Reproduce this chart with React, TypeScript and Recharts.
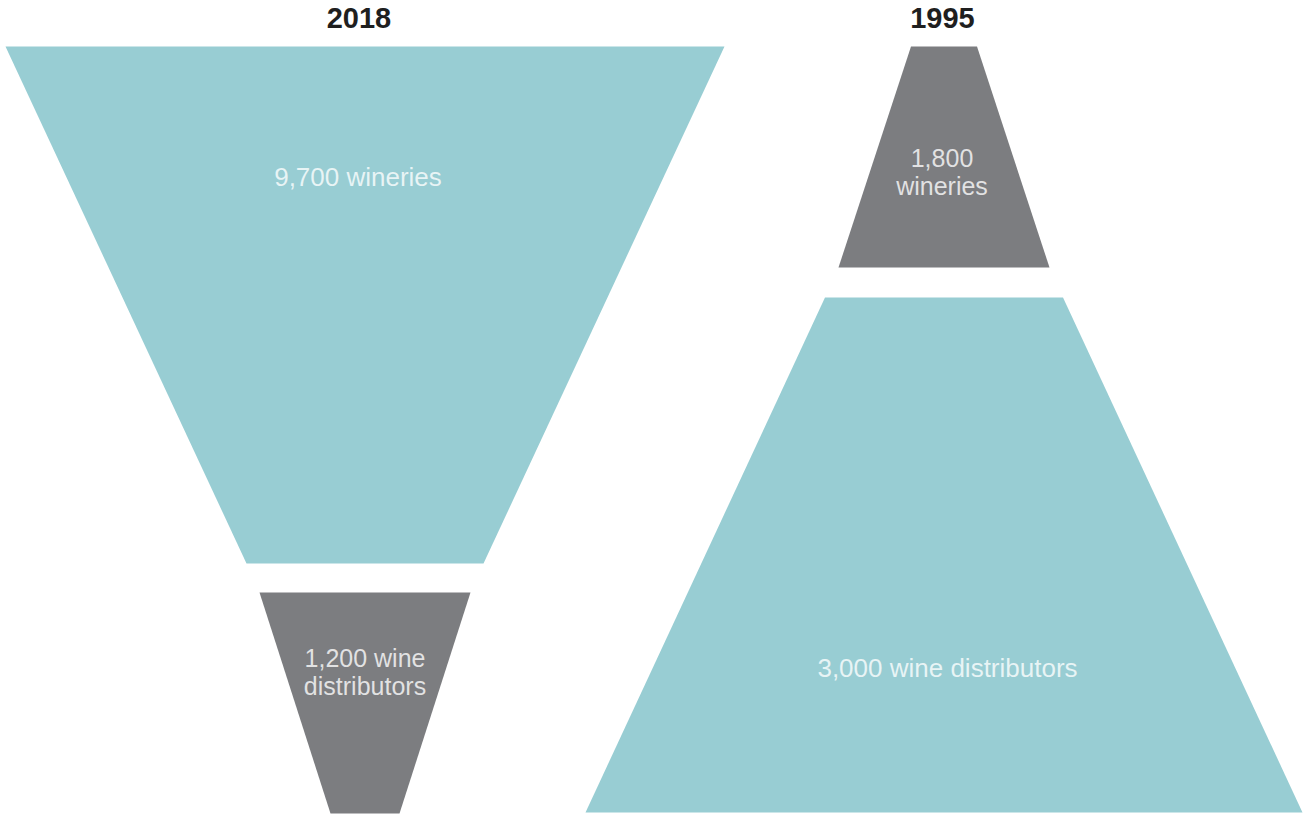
import { Area, ComposedChart, ReferenceDot, XAxis, YAxis } from "recharts";

const years = ["2018", "1995"];
const stageNames = ["wineries", "wine distributors"];
const counts2018 = [9700, 1200];
const counts1995 = [1800, 3000];

// band width at the top and bottom edge of each stage (chart units)
const topWidths2018 = [719, 211];
const bottomWidths2018 = [237, 69];
const topWidths1995 = [66, 238];
const bottomWidths1995 = [211, 717];

// where each band starts / ends, measured down from the top of its funnel
const startDepth2018 = [0, 546];
const endDepth2018 = [517, 767];
const startDepth1995 = [0, 251];
const endDepth1995 = [221, 766];

// label wraps after this many words (0 = single line)
const breakAfter2018 = [0, 2];
const breakAfter1995 = [1, 0];

const W = 1305;
const H = 816;
const FUNNEL_TOP = 46.5;
const TEAL = "#98cdd3";
const GRAY = "#7c7d80";
const FONT = "'Liberation Sans', Arial, Helvetica, sans-serif";

// layout: funnel centres, title and label anchors (first baseline, below funnel top)
const funnels = [
  {
    year: years[0],
    center: 365,
    titleX: 359,
    counts: counts2018,
    top: topWidths2018,
    bottom: bottomWidths2018,
    start: startDepth2018,
    end: endDepth2018,
    breaks: breakAfter2018,
    colors: [TEAL, GRAY],
    labelX: [358, 365],
    labelY: [139.5, 620.5],
    fontSize: [26, 25],
  },
  {
    year: years[1],
    center: 944,
    titleX: 942.5,
    counts: counts1995,
    top: topWidths1995,
    bottom: bottomWidths1995,
    start: startDepth1995,
    end: endDepth1995,
    breaks: breakAfter1995,
    colors: [GRAY, TEAL],
    labelX: [942, 947.5],
    labelY: [120.5, 630.5],
    fontSize: [25, 26],
  },
];

function labelLines(count: number, name: string, breakAfter: number) {
  const words = `${count.toLocaleString("en-US")} ${name}`.split(" ");
  if (!breakAfter) return [words.join(" ")];
  return [words.slice(0, breakAfter).join(" "), words.slice(breakAfter).join(" ")];
}

export default function App() {
  return (
    <div style={{ position: "absolute", left: 0, top: 0, width: W, height: H, background: "#fff" }}>
      <ComposedChart width={W} height={H} layout="vertical" margin={{ top: 0, right: 0, bottom: 0, left: 0 }}>
        <XAxis type="number" hide domain={[0, W]} allowDataOverflow />
        <YAxis type="number" dataKey="y" hide domain={[0, H]} allowDataOverflow />

        {funnels.flatMap((f) =>
          stageNames.map((name, i) => {
            const data = [
              { y: FUNNEL_TOP + f.start[i], band: [f.center - f.top[i] / 2, f.center + f.top[i] / 2] },
              { y: FUNNEL_TOP + f.end[i], band: [f.center - f.bottom[i] / 2, f.center + f.bottom[i] / 2] },
            ];
            return (
              <Area
                key={`${f.year}-${name}`}
                data={data}
                dataKey="band"
                type="linear"
                fill={f.colors[i]}
                fillOpacity={1}
                stroke="none"
                dot={false}
                activeDot={false}
                isAnimationActive={false}
              />
            );
          })
        )}

        {funnels.map((f) => (
          <ReferenceDot
            key={`title-${f.year}`}
            x={f.titleX}
            y={28}
            r={0}
            shape={(p: any) => (
              <text x={p.cx} y={p.cy} textAnchor="middle" fontFamily={FONT} fontSize={29} fontWeight="bold" fill="#1f1f1f">
                {f.year}
              </text>
            )}
          />
        ))}

        {funnels.flatMap((f) =>
          stageNames.map((name, i) => (
            <ReferenceDot
              key={`label-${f.year}-${name}`}
              x={f.labelX[i]}
              y={FUNNEL_TOP + f.labelY[i]}
              r={0}
              shape={(p: any) => (
                <text x={p.cx} y={p.cy} textAnchor="middle" fontFamily={FONT} fontSize={f.fontSize[i]} fill="#ffffff" fillOpacity={0.78}>
                  {labelLines(f.counts[i], name, f.breaks[i]).map((line, k) => (
                    <tspan key={k} x={p.cx} dy={k === 0 ? 0 : 28}>
                      {line}
                    </tspan>
                  ))}
                </text>
              )}
            />
          ))
        )}
      </ComposedChart>
    </div>
  );
}
